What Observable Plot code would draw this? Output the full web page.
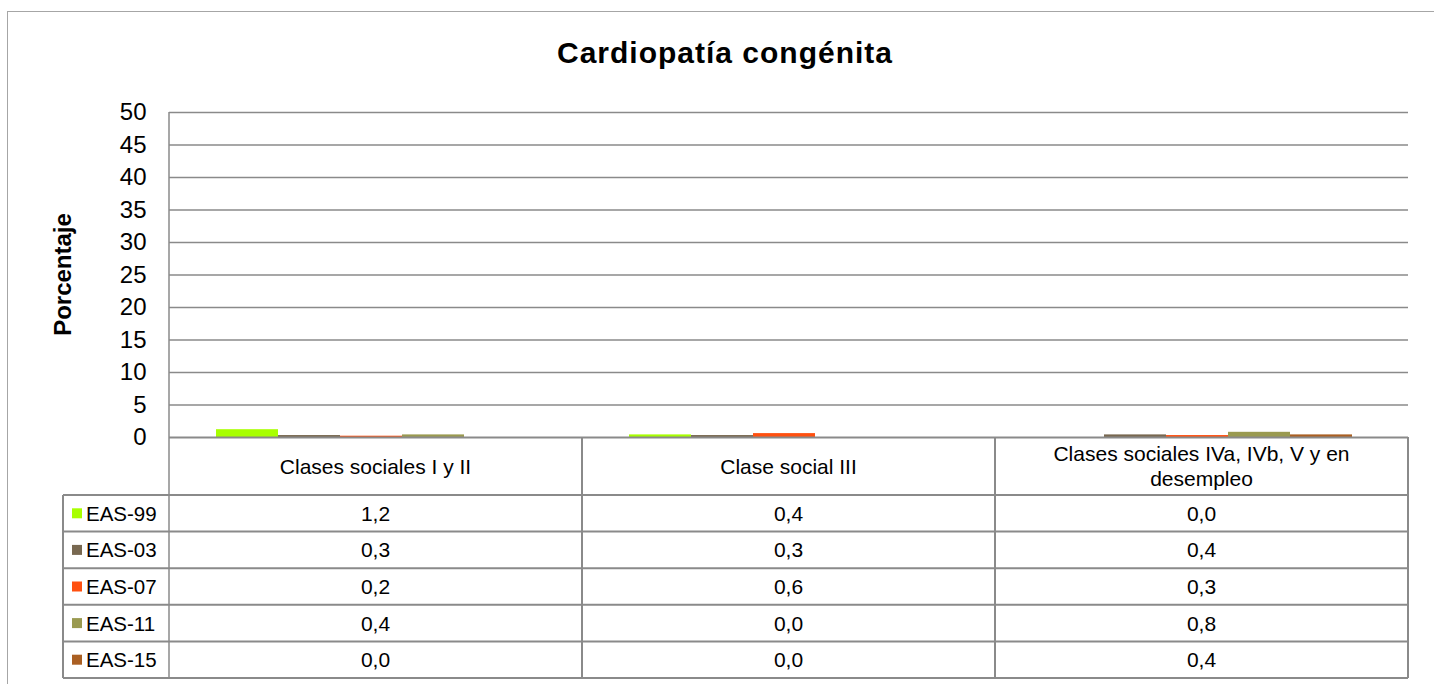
<!DOCTYPE html>
<html>
<head>
<meta charset="utf-8">
<script src="https://cdn.jsdelivr.net/npm/d3@7"></script>
<script src="https://cdn.jsdelivr.net/npm/@observablehq/plot@0.6"></script>
<style>
  html, body { margin: 0; padding: 0; background: #fff; overflow: hidden; }
  #wrap { position: relative; width: 1434px; height: 684px; font-family: "Liberation Sans", Arial, sans-serif; }
  #border { position: absolute; left: 7px; top: 11px; width: 1600px; height: 800px; border-left: 1px solid #a6a6a6; border-top: 1px solid #a6a6a6; }
  #title { position: absolute; left: 16px; width: 1418px; top: 38px; line-height: 30px; text-align: center; font-weight: bold; font-size: 30px; letter-spacing: 1px; color: #000; }
  #chart { position: absolute; left: 0; top: 0; }
</style>
</head>
<body>
<div id="wrap">
  <div id="border"></div>
  <div id="chart"></div>
  <div id="title">Cardiopatía congénita</div>
</div>
<script>
// ---- Data ----
const categories = ["Clases sociales I y II", "Clase social III", "Clases sociales IVa, IVb, V y en desempleo"];
const categoryLabels = ["Clases sociales I y II", "Clase social III", "Clases sociales IVa, IVb, V y en\ndesempleo"];
const series = ["EAS-99", "EAS-03", "EAS-07", "EAS-11", "EAS-15"];
const eas99 = [1.2, 0.4, 0.0];
const eas03 = [0.3, 0.3, 0.4];
const eas07 = [0.2, 0.6, 0.3];
const eas11 = [0.4, 0.0, 0.8];
const eas15 = [0.0, 0.0, 0.4];
const seriesColors = ["#a8ff00", "#786850", "#ff5010", "#9a9a50", "#aa5f22"];
const yTicks = [0, 5, 10, 15, 20, 25, 30, 35, 40, 45, 50];

const seriesValues = [eas99, eas03, eas07, eas11, eas15];
const rows = [];
series.forEach((s, i) => categories.forEach((c, j) => rows.push({series: s, cat: c, value: seriesValues[i][j]})));

const W = 1434, H = 684;
const plot = Plot.plot({
  width: W,
  height: H,
  marginLeft: 169,
  marginRight: 26,
  marginTop: 112,
  marginBottom: 247,
  style: {fontFamily: "Liberation Sans, Arial, sans-serif", fontSize: "24px", color: "#000", background: "transparent", overflow: "visible"},
  facet: {data: rows, x: "cat"},
  fx: {domain: categories, padding: 0, axis: null, label: null},
  x: {domain: series, axis: null, paddingInner: 0, paddingOuter: 0.78, align: 0.46},
  y: {domain: [0, 50], ticks: yTicks, tickSize: 0, tickPadding: 23, label: null, tickFormat: d => String(d)},
  color: {domain: series, range: seriesColors},
  marks: [
    Plot.ruleY(yTicks.slice(1), {stroke: "#8a8a8a", strokeWidth: 1.3, strokeOpacity: 1}),
    Plot.barY(rows, {x: "series", y: "value", fill: "series", inset: 0}),
    Plot.ruleY([0], {stroke: "#8a8a8a", strokeWidth: 2, strokeOpacity: 1})
  ]
});
document.getElementById("chart").appendChild(plot);

// ---- Table and extra labels using the plot's scales ----
const fxd = plot.scale("fx");
const yd = plot.scale("y");
const fx = d3.scaleBand().domain(fxd.domain).range(fxd.range).paddingInner(0).paddingOuter(0);
const ys = d3.scaleLinear().domain(yd.domain).range(yd.range);
const y0 = ys(0), yTop = ys(50);
const left = fx.range()[0], right = fx.range()[1];
const tableLeft = 63;
const headerH = 58, rowH = 36.6;
const rowTop = y0 + headerH;
const tableBottom = rowTop + rowH * series.length;
const svg = d3.select(plot);
const g = svg.append("g").attr("font-family", "Liberation Sans, Arial, sans-serif").attr("fill", "#000");
const lineColor = "#8a8a8a";

// y axis line continues through table
g.append("line").attr("x1", left).attr("x2", left).attr("y1", yTop).attr("y2", tableBottom)
  .attr("stroke", lineColor).attr("stroke-width", 1.5);
// horizontal table lines
for (let k = 0; k <= series.length; k++) {
  const yy = rowTop + k * rowH;
  g.append("line").attr("x1", tableLeft).attr("x2", right).attr("y1", yy).attr("y2", yy)
    .attr("stroke", lineColor).attr("stroke-width", 2);
}
// vertical lines
g.append("line").attr("x1", tableLeft).attr("x2", tableLeft).attr("y1", rowTop).attr("y2", tableBottom)
  .attr("stroke", lineColor).attr("stroke-width", 2);
categories.forEach(c => {
  const xr = fx(c) + fx.bandwidth();
  g.append("line").attr("x1", xr).attr("x2", xr).attr("y1", y0).attr("y2", tableBottom)
    .attr("stroke", lineColor).attr("stroke-width", 2);
});
// header labels
categories.forEach((c, j) => {
  const lines = categoryLabels[j].split("\n");
  const cx = fx(c) + fx.bandwidth() / 2;
  const cy = y0 + headerH / 2;
  lines.forEach((ln, li) => {
    g.append("text").attr("x", cx).attr("y", cy + (li - (lines.length - 1) / 2) * 25)
      .attr("text-anchor", "middle").attr("dominant-baseline", "central")
      .attr("font-size", 21).text(ln);
  });
});
// rows
series.forEach((s, i) => {
  const cy = rowTop + rowH * (i + 0.5);
  g.append("rect").attr("x", 72).attr("y", cy - 5).attr("width", 10).attr("height", 10).attr("fill", seriesColors[i]);
  g.append("text").attr("x", 86).attr("y", cy).attr("text-anchor", "start").attr("dominant-baseline", "central").attr("font-size", 20.5).text(s);
  categories.forEach((c, j) => {
    g.append("text").attr("x", fx(c) + fx.bandwidth() / 2).attr("y", cy)
      .attr("text-anchor", "middle").attr("dominant-baseline", "central").attr("font-size", 21)
      .text(seriesValues[i][j].toFixed(1).replace(".", ","));
  });
});
// y axis title
g.append("text").attr("transform", `translate(62.5,${(y0 + yTop) / 2}) rotate(-90)`)
  .attr("text-anchor", "middle").attr("dominant-baseline", "central")
  .attr("font-size", 24).attr("font-weight", "bold").text("Porcentaje");
</script>
</body>
</html>
